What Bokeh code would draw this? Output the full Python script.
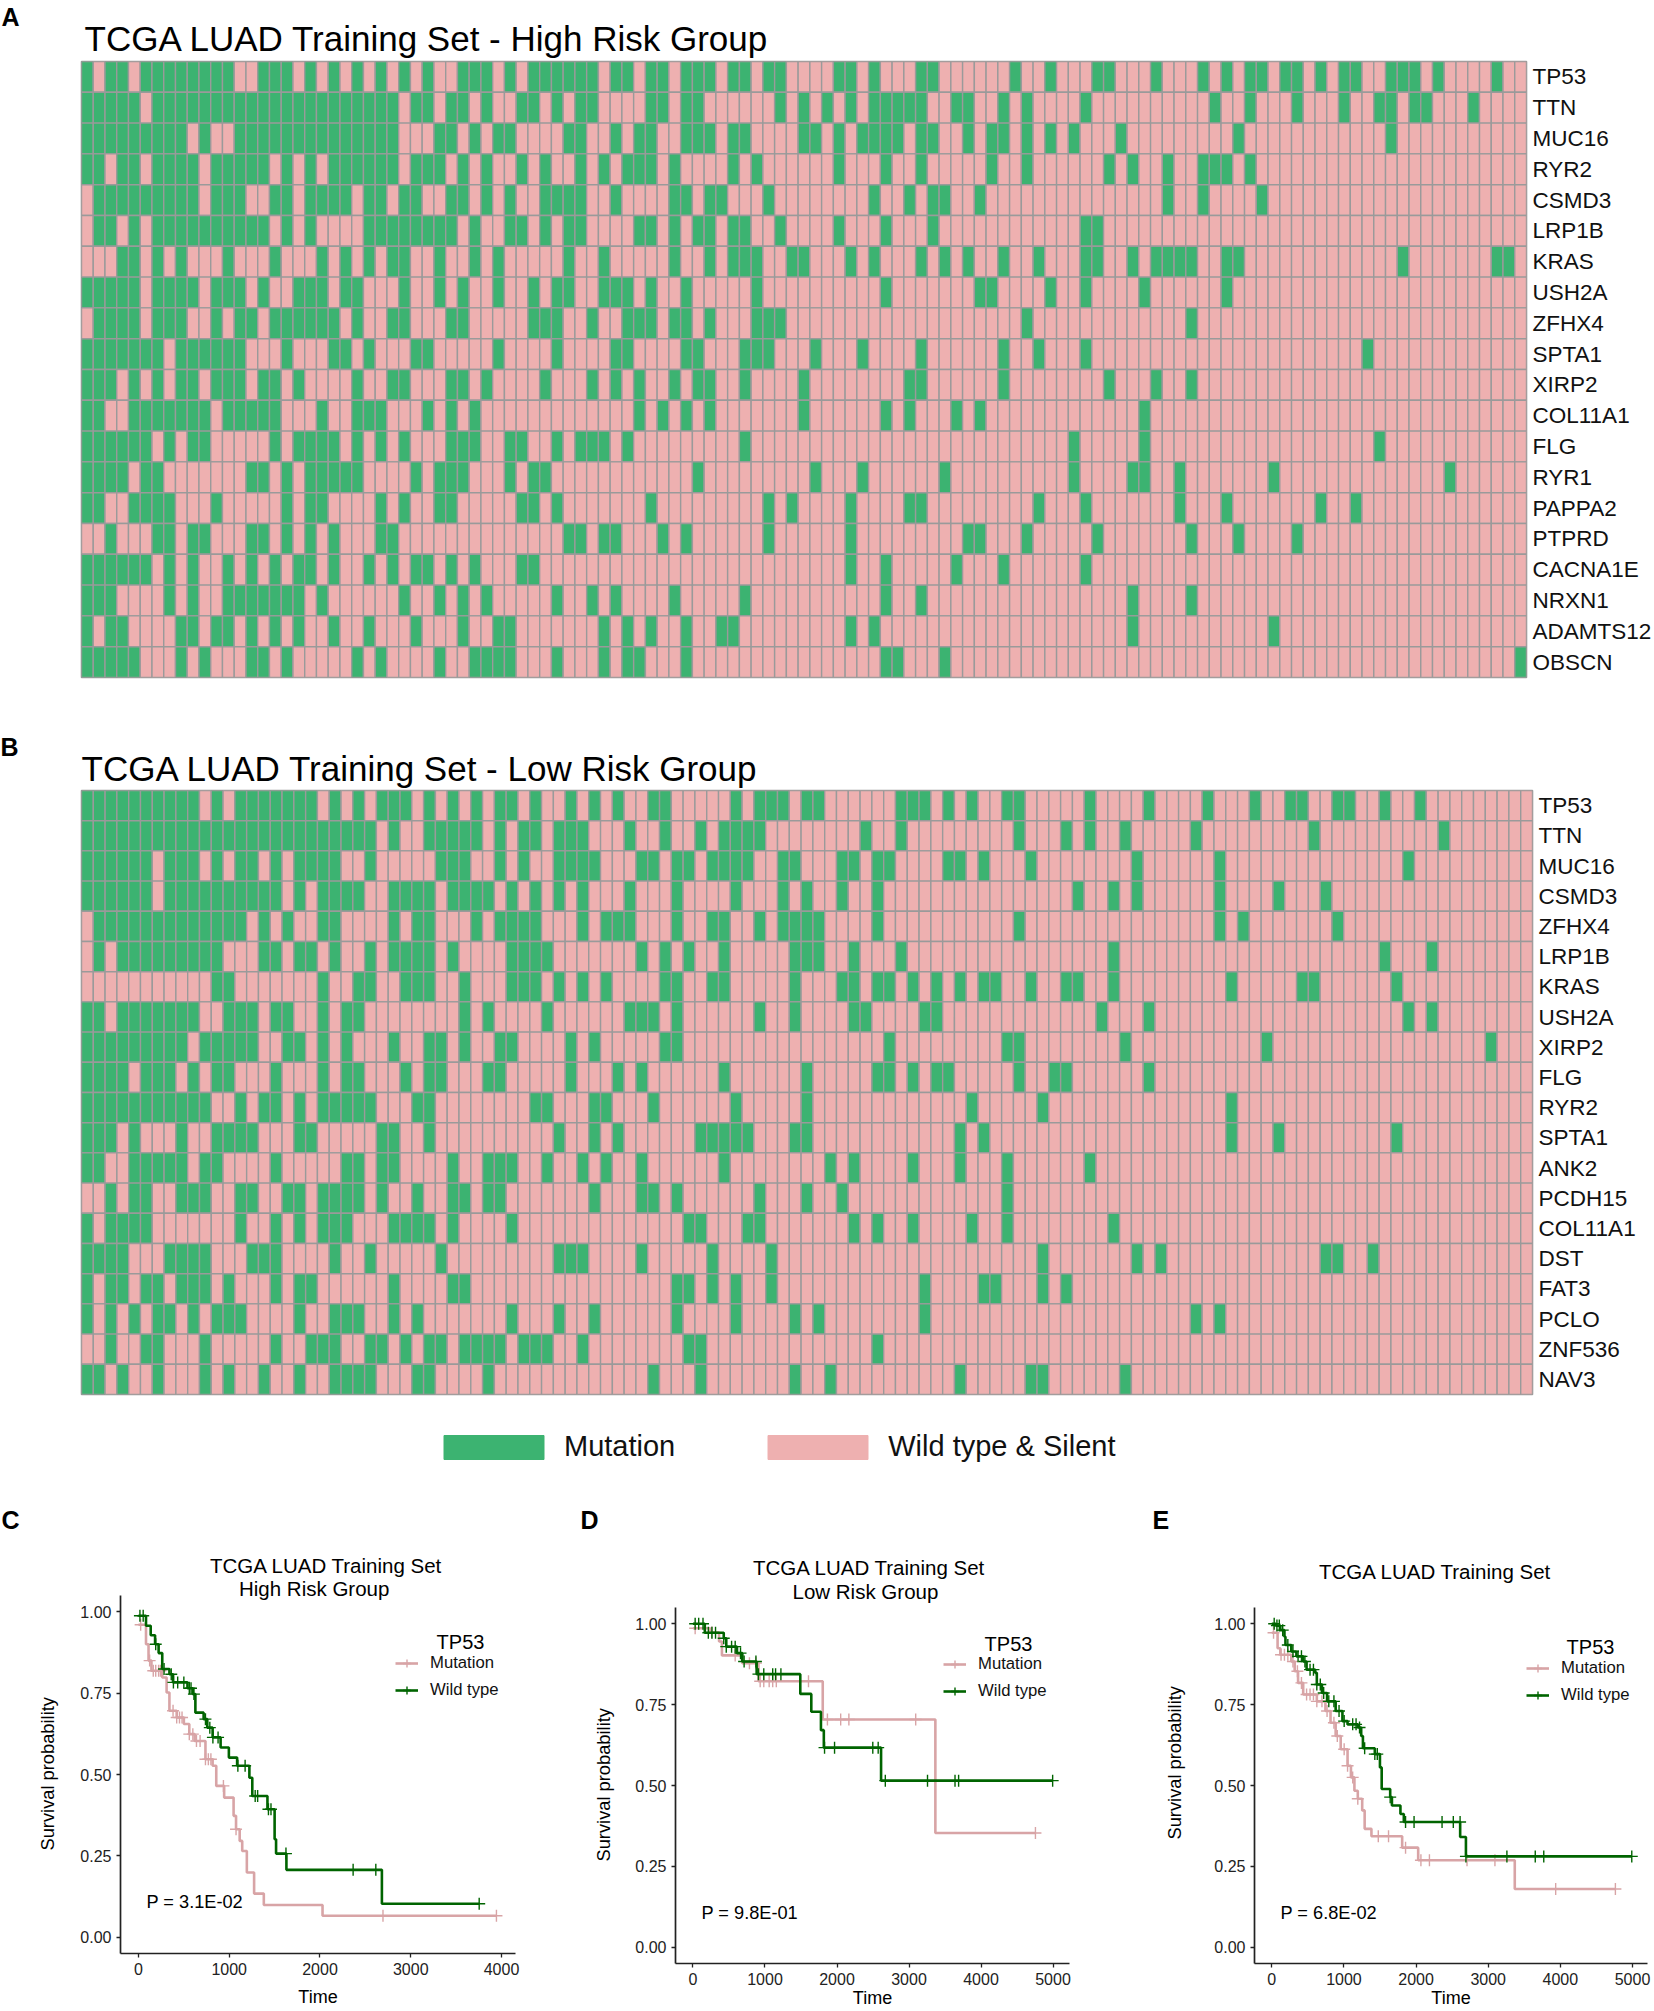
from bokeh.embed import file_html
from bokeh.layouts import column, row
from bokeh.models import (ColumnDataSource, FactorRange, FixedTicker, Label, Legend, LegendItem,
                          NumeralTickFormatter, Range1d, Title)
from bokeh.plotting import figure
from bokeh.resources import INLINE

# ---------- data: heatmaps (columns with a mutation for every gene) ----------
N_SAMPLES = 123
GENES_A = ["TP53", "TTN", "MUC16", "RYR2", "CSMD3", "LRP1B", "KRAS", "USH2A", "ZFHX4", "SPTA1",
           "XIRP2", "COL11A1", "FLG", "RYR1", "PAPPA2", "PTPRD", "CACNA1E", "NRXN1", "ADAMTS12", "OBSCN"]
MUT_A = [
    "0 2 3 5-12 15-17 19 21 23 25 27 29 32-34 36 38-40 41-43 45 46 48 49 51-53 55 56 58 59 64 65 67 71 72 79 82 86 87 91 95 97 99 100 102 103 105 107 108 111-113 115 120",
    "0-4 6-26 28 29 31 32 34 37 38 40 42 43 48 49 51 52 59 61 63 65 67-71 74 75 78 80 85 96 99 103 107 110 111 113 114 118",
    "0-8 10 13-26 30 31 33 35 36 41 42 45 47 48 51-53 55 56 61 62 64 66-69 71 72 75 77 78 80 82 84 88 98 111",
    "0 1 3 4 6-9 11-15 17 19 21-26 28-30 32 34 37 39 42 44 46-48 50 55 57 64 68 71 77 80 87 89 92 95-97 99",
    "1-9 11-13 16 17 19-22 24 25 27 28 31 32 34 36 39 40 41 42 45 50 51 53 54 58 67 70 72 73 76 92 95 100",
    "1 2 4 6-15 17 19 24-31 33 36 37 39 41 42 47 48 50 52 53 55 56 59 64 68 72 85 86",
    "3 4 6 8 12 16 20 22 24 26 27 30 33 35 41 44 50 53 55-57 60 61 65 67 71 73 75 78 81 85 86 89 91-94 97 98 112 120 121",
    "0-4 6-9 11-13 15 18-20 22 23 27 30 32 35 38 40 41 44-46 48 51 57 68 76 77 82 85 90 97",
    "1-4 6-8 11 13 14 16-21 23 26 27 31 32 38-40 43 46-48 50 51 53 57-59 80 94",
    "0-6 8-13 17 21 22 24 28 29 35 40 45 46 51 52 56-58 62 66 71 78 81 85 109",
    "0-2 4 6 8 9 11-13 15 16 18 23 26 27 31 32 34 39 43 45 47 50 52 53 56 61 70 71 78 87 91 94",
    "0 1 4-10 12-16 20 23-25 29 31 33 47 49 51 53 61 68 70 74 76 90",
    "0-5 7 9 10 16 18-21 23 25 27 31-33 36 37 40 42-44 46 56 84 90 110",
    "0-3 5 6 14 15 17 19-23 28 30-32 36 38 39 52 62 66 73 84 89 90 93 101 116",
    "0 1 4-7 11 17 19 20 25 27 30 31 37 38 40 48 58 60 65 70 71 81 85 93 97 105 108",
    "2 6 7 9 10 14 15 17 19 21 25 26 41 42 44 45 49 51 58 65 75 76 80 86 94 98 103",
    "0-5 7 9 12 14 16 18 19 21 24 26 28 29 31 33 37 38 65 68 74 78 85",
    "0-2 7 9 12-18 20 27 30 32 34 40 43 45 50 56 68 71 89 94",
    "0 2 3 8 9 11 12 14 16 18 21 24 28 32 35 36 44 46 48 51 54 55 65 67 89 101",
    "0-4 8 10 14 15 17 23 25 30 33-36 40 44 46 47 51 68 69 73 122",
]
GENES_B = ["TP53", "TTN", "MUC16", "CSMD3", "ZFHX4", "LRP1B", "KRAS", "USH2A", "XIRP2", "FLG",
           "RYR2", "SPTA1", "ANK2", "PCDH15", "COL11A1", "DST", "FAT3", "PCLO", "ZNF536", "NAV3"]
MUT_B = [
    "0-9 11 13-19 21 23 25-27 29 31 33 35 36 38 41 43 45 48 49 55 57-59 61 62 69-71 73 75 78 79 85 90 95 99 102 103 106 107 110 113",
    "0-24 26 29-33 35 37 38 40 41 42 46 49 52 54-57 66 69 79 83 85 88 94 104 115",
    "0-5 7-9 11 13 14 16 18-21 24 30-32 35 37 40 41-43 47 48 50 51 53-56 59 60 64 65 67 68 73 74 76 80 89 96 112",
    "0-5 7-16 18 20-23 26-29 31-34 36 38 40 42 46 50 55 59 61 64 67 84 87 89 96 101 105",
    "1-13 15 17 20 21 26 28 29 33 35-38 42 44-46 50 53 54 57 59-62 67 79 96 98 106",
    "1 3-11 15 16 18 19 21 24 26-29 31 36-39 47 49 51 54 60-62 65 69 87 110 114",
    "11 12 20 23 24 27-29 32 36-38 40 42 44 49 50 53 54 60 64 65 67 68 70 72 74 76 77 80 83 84 87 97 103 104 111",
    "0 1 3-9 12-14 16 17 20 22 23 32 34 39 46-48 50 57 60 65 66 71 72 86 90 112 114",
    "0-8 10-14 17 18 20 22 26 29 30 32 35 36 41 43 49 50 68 78 79 88 100 119",
    "0-3 5-7 9 11 12 16 20 22 23 27 29 30 34 35 41 45 47 54 61 67 68 70 72 73 79 82 83 90",
    "0-10 13 15 16 18 20-24 28 29 38 39 43 44 48 55 61 75 81 97",
    "0-2 4 8 11-14 18 19 25 26 29 40 43 45 52-56 60 61 74 76 97 101 111",
    "0 1 4-8 10 11 16 22 23 25 26 31 34-36 39 42 44 47 54 63 65 70 74 78 85",
    "2 4 5 8-10 13 14 17 18 20-23 25 28 31 32 34 35 43 47 48 50 57 61 64 78",
    "0 2-5 13 16 18 20-22 26-29 31 36 51 52 56 57 65 67 70 75 78 87",
    "0-3 7-10 14-16 21 24 30 40 41 42 47 53 58 81 89 91 105 106 109",
    "0 2 3 5 6 8-10 12 16 18 19 26 31 32 50 51 53 55 58 71 76 77 81 83",
    "0 2 4 6 7 9 11-13 18 21-23 26 28 36 40 43 50 55 60 62 71 94 96",
    "2 5 6 10 16 19-21 24 25 27 29 30 32-35 37-39 42 51 52 67",
    "0 1 3 6 10 12 15 18 21-24 28 29 34 48 52 60 63 74 80 81 88",
]

# ---------- data: survival curves (time at which survival becomes the given value) ----------
C_WT_T = [0, 83, 135, 183, 222, 262, 341, 381, 540, 599, 627, 718, 758, 817, 905, 996, 1087, 1222, 1254, 1421, 1500, 1516, 1630, 2682, 3754]
C_WT_S = [.988, .957, .928, .90, .873, .824, .808, .783, .765, .747, .69, .67, .644, .614, .583, .552, .527, .49, .434, .393, .301, .257, .207, .103, .103]
C_WT_CENS = [16, 52, 190, 282, 361, 385, 432, 500, 560, 579, 611, 738, 786, 820, 877, 1095, 1175, 1286, 1313, 1432, 1460, 1625, 2365, 2615, 3754]
C_MUT_T = [0, 83, 111, 143, 262, 310, 341, 421, 500, 560, 619, 738, 817, 857, 944, 1048, 1075, 1115, 1143, 1194, 1274, 1381, 2028, 3944]
C_MUT_S = [.96, .90, .85, .819, .798, .752, .696, .675, .655, .624, .603, .547, .527, .465, .429, .373, .332, .296, .265, .199, .134, .099, .066, .066]
C_MUT_CENS = [24, 123, 163, 190, 222, 242, 381, 421, 452, 480, 560, 599, 639, 679, 738, 770, 798, 936, 1075, 2694, 3944]

D_WT_T = [0, 164, 427, 462, 611, 685, 884, 1490, 1643, 1777, 1817, 2612, 4995]
D_WT_S = [1.0, .972, .955, .929, .909, .883, .844, .783, .728, .671, .617, .515, .515]
D_WT_CENS = [30, 79, 139, 213, 263, 313, 427, 462, 536, 586, 660, 710, 874, 909, 983, 1107, 1147, 1221, 1827, 1966, 2497, 2572, 2671, 3257, 3639, 3689, 4995]
D_MUT_T = [0, 238, 362, 402, 685, 909, 1802, 3366, 4756]
D_MUT_S = [.986, .973, .945, .902, .878, .822, .704, .353, .353]
D_MUT_CENS = [30, 263, 586, 784, 874, 933, 983, 1058, 1107, 1157, 1604, 1867, 2051, 2165, 3093, 4756]

E_WT_T = [0, 57, 118, 175, 189, 270, 341, 435, 482, 601, 624, 695, 766, 885, 979, 1050, 1192, 1239, 1263, 1428, 1499, 1523, 1641, 1665, 1783, 1830, 2611, 2691, 4990]
E_WT_S = [1.0, .994, .98, .96, .934, .914, .899, .883, .858, .848, .812, .786, .76, .73, .699, .689, .679, .653, .615, .597, .556, .489, .464, .438, .412, .387, .341, .281, .281]
E_WT_CENS = [33, 71, 104, 151, 222, 293, 364, 411, 459, 530, 577, 624, 672, 719, 790, 861, 932, 1003, 1121, 1168, 1216, 1287, 1428, 1462, 1641, 1854, 1972, 2360, 2516, 2610, 2691, 3259, 3652, 3770, 4990]
E_MUT_T = [0, 80, 118, 270, 317, 364, 435, 624, 743, 814, 885, 955, 1050, 1097, 1145, 1192, 1253, 1287, 1381, 1807, 2029, 3368, 4763]
E_MUT_S = [.972, .924, .904, .883, .853, .817, .781, .76, .73, .694, .653, .612, .561, .525, .484, .459, .423, .366, .343, .308, .269, .18, .18]
E_MUT_CENS = [24, 128, 175, 222, 293, 355, 411, 482, 530, 577, 624, 695, 766, 861, 908, 1003, 1050, 1121, 1192, 1476, 1618, 1854, 2067, 2185, 2706, 3093, 3935, 4763]

SURV_TICKS = [0, .25, .5, .75, 1]
TIME_TICKS_C = [0, 1000, 2000, 3000, 4000]
TIME_TICKS_DE = [0, 1000, 2000, 3000, 4000, 5000]

# ---------- styles ----------
FONT = "Liberation Sans"
GREEN, PINK, GRID = "#3CB371", "#EEB0B0", "#9A9A9A"
KM_PINK, KM_GREEN = "#D8A4A6", "#006400"


def parse(spec):
    out = set()
    for tok in spec.split():
        if "-" in tok:
            a, b = tok.split("-")
            out.update(range(int(a), int(b) + 1))
        else:
            out.add(int(tok))
    return out


def head(p, text, size, offset, standoff, bold=False, side="above"):
    """A text in a side panel; panels stack outward from the frame in the order they are added."""
    p.add_layout(Title(text=text, text_font=FONT, text_font_size=f"{size}px", align="left", offset=offset,
                       standoff=standoff, text_color="black",
                       text_font_style="bold" if bold else "normal"), side)


def spacer(p, standoff):
    p.add_layout(Title(text=" ", text_font=FONT, text_font_size="1px", standoff=standoff), "above")


def note(p, frame, x, y, text, size, align="left"):
    """x, y: page pixels; frame: page position of the frame's left and bottom edge."""
    p.add_layout(Label(x=x - frame[0], y=frame[1] - y, x_units="screen", y_units="screen", text=text,
                       text_font=FONT, text_font_size=f"{size}px", text_align=align,
                       text_baseline="middle", text_color="black"))


def heatmap(genes, muts, width, height, left, top, bottom, right, title, title_off, title_so, letter, letter_off, letter_so):
    rows = list(reversed(genes))
    p = figure(width=width, height=height, x_range=Range1d(0, N_SAMPLES), y_range=FactorRange(factors=rows),
               x_axis_location=None, y_axis_location="right", toolbar_location=None, output_backend="svg",
               min_border_left=left, min_border_top=top, min_border_bottom=bottom, min_border_right=right,
               title=None)
    xs, ys, cs = [], [], []
    for gene, spec in zip(genes, muts):
        on = parse(spec)
        for c in range(N_SAMPLES):
            xs.append(c + .5)
            ys.append(gene)
            cs.append(GREEN if c in on else PINK)
    p.rect(x="x", y="y", width=1, height=1, fill_color="c", line_color=GRID, line_width=1.4,
           source=ColumnDataSource(dict(x=xs, y=ys, c=cs)))
    p.grid.visible = False
    p.outline_line_color = GRID
    p.outline_line_width = 1.6
    ax = p.yaxis[0]
    ax.axis_line_color = None
    ax.major_tick_line_color = None
    ax.major_tick_out = 0
    ax.major_label_standoff = 6
    ax.major_label_text_font = FONT
    ax.major_label_text_font_size = "22.5px"
    ax.major_label_text_color = "#111111"
    head(p, title, 35, title_off, title_so)
    head(p, letter, 25, letter_off, letter_so, bold=True)
    return p


def step_at(ts, ss, t):
    v = ss[0]
    for a, b in zip(ts, ss):
        if a <= t:
            v = b
    return v


def km(width, height, left, top, right, bottom, frame, xr, ticks, mut, wt, titles, gap, ylab_off, ylab_so,
       ptext, ptext_xy, leg_xy, tp53_xy, letter, letter_off, time_so):
    p = figure(width=width, height=height, x_range=Range1d(*xr), y_range=Range1d(-.05, 1.05),
               toolbar_location=None, output_backend="svg", min_border_left=left, min_border_top=top,
               min_border_right=right, min_border_bottom=bottom, title=None)
    p.grid.visible = False
    p.outline_line_color = None
    p.xaxis.ticker = FixedTicker(ticks=ticks)
    p.yaxis.ticker = FixedTicker(ticks=SURV_TICKS)
    p.yaxis.formatter = NumeralTickFormatter(format="0.00")
    for ax in (p.xaxis[0], p.yaxis[0]):
        ax.axis_line_color = "#222222"
        ax.axis_line_width = 1.7
        ax.major_tick_line_color = "#222222"
        ax.major_tick_line_width = 1.3
        ax.major_tick_in = 0
        ax.major_tick_out = 4
        ax.minor_tick_line_color = None
        ax.major_label_text_font = FONT
        ax.major_label_text_font_size = "16px"
        ax.major_label_text_color = "#222222"
        ax.major_label_standoff = 5
    p.xaxis.axis_label = "Time"
    p.xaxis.axis_label_text_font = FONT
    p.xaxis.axis_label_text_font_size = "18px"
    p.xaxis.axis_label_text_font_style = "normal"
    p.xaxis.axis_label_text_color = "black"
    p.xaxis.axis_label_standoff = time_so
    items = []
    for (ts, ss, cens, color, name) in (mut + (KM_PINK, "Mutation"), wt + (KM_GREEN, "Wild type")):
        line = p.step(ts, ss, mode="after", line_color=color, line_width=2.6)
        marks = p.scatter(cens, [step_at(ts, ss, t) for t in cens], marker="cross", size=12,
                          line_color=color, line_width=1.4, fill_color=None)
        items.append(LegendItem(label=name, renderers=[line, marks]))
    leg = Legend(items=items, location=leg_xy, padding=0, margin=0, spacing=7, glyph_width=23, glyph_height=20,
                 label_height=20, label_standoff=12, label_text_font=FONT, label_text_font_size="16.7px",
                 label_text_color="#111111", background_fill_alpha=0, border_line_color=None)
    p.add_layout(leg)
    for (tt, off, so) in titles:
        head(p, tt, 20.5, off, so)
    if gap:
        spacer(p, gap)
    head(p, letter, 25, letter_off, 0, bold=True)
    head(p, "Survival probability", 18.3, ylab_off, ylab_so, side="left")
    note(p, frame, ptext_xy[0], ptext_xy[1], ptext, 18.2)
    note(p, frame, tp53_xy[0], tp53_xy[1], "TP53", 20, align="center")
    return p


pA = heatmap(GENES_A, MUT_A, 1654, 720, 81, 61, 43, 127,
             "TCGA LUAD Training Set - High Risk Group", 3, 7, "A", -80, -34)
pB = heatmap(GENES_B, MUT_B, 1654, 690, 81, 70, 16, 122,
             "TCGA LUAD Training Set - Low Risk Group", 0, 5, "B", -81, -32)

# heat-map colour key: the two entries' samples lie outside the visible range, only the keys show
pL = figure(width=1654, height=80, x_range=Range1d(0, 1), y_range=Range1d(0, 1), toolbar_location=None,
            output_backend="svg", min_border=0, title=None)
pL.axis.visible = False
pL.grid.visible = False
pL.outline_line_color = None
r1 = pL.quad(left=[2], right=[3], top=[3], bottom=[2], fill_color=GREEN, line_color=GREEN)
r2 = pL.quad(left=[2], right=[3], top=[3], bottom=[2], fill_color=PINK, line_color=PINK)
pL.add_layout(Legend(items=[LegendItem(label="Mutation", renderers=[r1]),
                            LegendItem(label="Wild type & Silent", renderers=[r2])],
                     orientation="horizontal", location=(350, 27), padding=0, margin=0, spacing=80,
                     glyph_width=125, glyph_height=30, label_height=30, label_standoff=8,
                     label_text_font=FONT, label_text_font_size="29px", label_text_color="#111111",
                     background_fill_alpha=0, border_line_color=None))

pC = km(560, 521, 120, 105, 45, 58, (120, 1953), (-198, 4154), TIME_TICKS_C,
        (C_MUT_T, C_MUT_S, C_MUT_CENS), (C_WT_T, C_WT_S, C_WT_CENS),
        [("High Risk Group", 118.5, -9), ("TCGA LUAD Training Set", 89.5, 5)], 13, 103, 40,
        "P = 3.1E-02", (146, 1901), (275, 253), (460, 1641), "C", -119, 9)
pD = km(560, 521, 115, 117, 51, 48, (675, 1963), (-243, 5229), TIME_TICKS_DE,
        (D_MUT_T, D_MUT_S, D_MUT_CENS), (D_WT_T, D_WT_S, D_WT_CENS),
        [("Low Risk Group", 117, 9), ("TCGA LUAD Training Set", 77.5, -11)], 23, 102, 38,
        "P = 9.8E-01", (701, 1912), (268, 262), (1008, 1643), "D", -95, 0)
pE = km(534, 521, 134, 117, 7, 48, (1254, 1963), (-240, 5208), TIME_TICKS_DE,
        (E_MUT_T, E_MUT_S, E_MUT_CENS), (E_WT_T, E_WT_S, E_WT_CENS),
        [("TCGA LUAD Training Set", 64.5, 49)], 0, 124, 54,
        "P = 6.8E-02", (1280, 1912), (272, 258), (1590, 1646), "E", -102, 0)

# nesting keeps Bokeh from lining up the frames of neighbouring figures
page = column(pA, column(pB), pL, row(column(pC), column(pD), column(pE)))
open("out.html", "w").write(file_html(page, INLINE))
